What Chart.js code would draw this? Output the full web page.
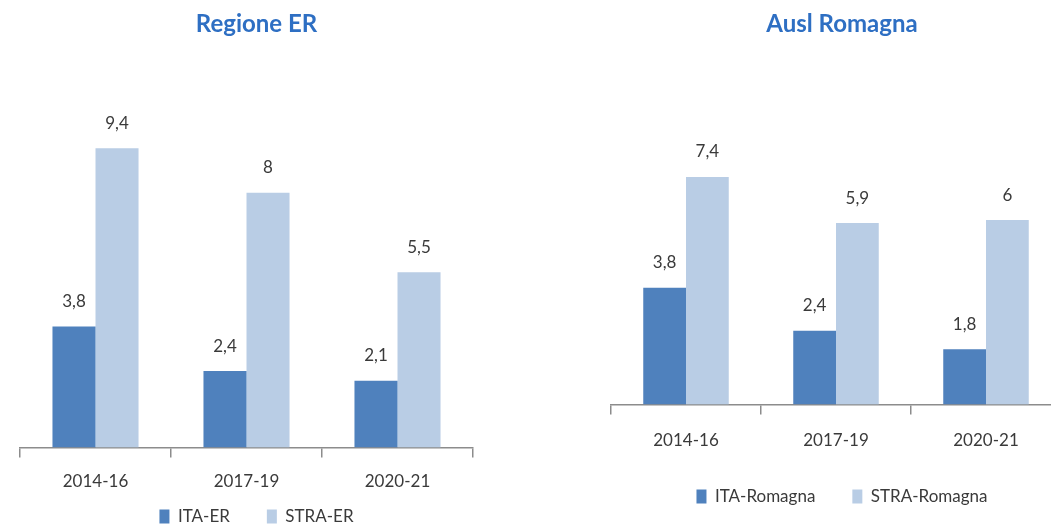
<!DOCTYPE html>
<html>
<head>
<meta charset="utf-8">
<script src="https://cdn.jsdelivr.net/npm/chart.js@4.4.1/dist/chart.umd.min.js"></script>
<style>
  html, body { margin: 0; padding: 0; background: #ffffff; width: 1051px; height: 528px; overflow: hidden; position: relative; }
  canvas { position: absolute; top: 0; }
  #c1 { left: 0px; }
  #c2 { left: 590px; }
</style>
</head>
<body>
<canvas id="c1" width="505" height="535"></canvas>
<canvas id="c2" width="493" height="515"></canvas>
<script>
// ---- data ----
const categories = ['2014-16', '2017-19', '2020-21'];

const titleER = 'Regione ER';
const itaER = [3.8, 2.4, 2.1];
const straER = [9.4, 8, 5.5];
const labelItaER = 'ITA-ER';
const labelStraER = 'STRA-ER';

const titleRom = 'Ausl Romagna';
const itaRom = [3.8, 2.4, 1.8];
const straRom = [7.4, 5.9, 6];
const labelItaRom = 'ITA-Romagna';
const labelStraRom = 'STRA-Romagna';

// ---- styles ----
const DARK = '#4F81BD';
const LIGHT = '#B9CDE5';
const TEXT = '#3a3a3a';
const TITLE_BLUE = '#2E6FC3';
const AXIS = '#8c8c8c';
const FONT = 'Lato, sans-serif';

const fmt = v => String(v).replace('.', ',');

const valueLabels = {
  id: 'valueLabels',
  afterDatasetsDraw(chart) {
    const ctx = chart.ctx;
    ctx.save();
    ctx.font = '17px ' + FONT;
    ctx.fillStyle = TEXT;
    ctx.textAlign = 'center';
    ctx.textBaseline = 'middle';
    chart.data.datasets.forEach((ds, i) => {
      chart.getDatasetMeta(i).data.forEach((bar, j) => {
        ctx.fillText(fmt(ds.data[j]), bar.x, bar.y - 25);
      });
    });
    ctx.restore();
  }
};

// let x tick labels extend below the (shortened) axis box
const noLabelClip = {
  id: 'noLabelClip',
  beforeDraw(chart) {
    const s = chart.scales.x;
    if (s) s._computeLabelArea = () => undefined;
  }
};

function makeChart(id, cfg) {
  return new Chart(document.getElementById(id), {
    type: 'bar',
    data: {
      labels: categories,
      datasets: [
        { label: cfg.labels[0], data: cfg.ita, backgroundColor: DARK, categoryPercentage: 0.57, barPercentage: 1.0 },
        { label: cfg.labels[1], data: cfg.stra, backgroundColor: LIGHT, categoryPercentage: 0.57, barPercentage: 1.0 }
      ]
    },
    plugins: [valueLabels, noLabelClip],
    options: {
      responsive: false,
      animation: false,
      devicePixelRatio: 1,
      layout: { padding: cfg.padding },
      plugins: {
        tooltip: { enabled: false },
        title: {
          display: true,
          text: cfg.title,
          color: TITLE_BLUE,
          font: { family: FONT, size: 24, weight: 'bold' },
          padding: { top: 10, bottom: cfg.titleBottom }
        },
        legend: {
          position: 'bottom',
          labels: {
            color: TEXT,
            font: { family: FONT, size: 17 },
            boxWidth: 10,
            boxHeight: 14,
            padding: 37
          }
        }
      },
      scales: {
        x: {
          border: { display: true, color: AXIS, width: 1.5 },
          grid: { display: true, drawOnChartArea: false, drawTicks: true, tickLength: 10, color: AXIS, lineWidth: 1.5, offset: true },
          ticks: { color: TEXT, font: { family: FONT, size: 17 }, padding: cfg.tickPad, maxRotation: 0, autoSkip: false },
          afterFit: s => { s.height = cfg.xHeight; }
        },
        y: {
          position: 'right',
          min: 0,
          max: cfg.yMax,
          display: true,
          border: { display: false },
          grid: { display: false },
          ticks: { display: false },
          afterFit: s => { s.width = cfg.yWidth; }
        }
      }
    }
  });
}

makeChart('c1', {
  title: titleER, ita: itaER, stra: straER, labels: [labelItaER, labelStraER],
  padding: { left: 20, right: 12, top: 0, bottom: 0 },
  titleBottom: 26.6, yMax: 12, yWidth: 20, xHeight: 23.5, tickPad: 14
});

makeChart('c2', {
  title: titleRom, ita: itaRom, stra: straRom, labels: [labelItaRom, labelStraRom],
  padding: { left: 21, right: 10, top: 0, bottom: 0 },
  titleBottom: 27.5, yMax: 11, yWidth: 12, xHeight: 46.5, tickPad: 16
});
</script>
</body>
</html>
